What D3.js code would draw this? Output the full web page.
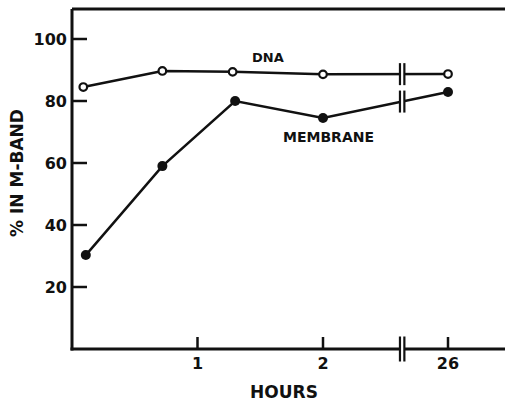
<!DOCTYPE html>
<html>
<head>
<meta charset="utf-8">
<script src="https://cdn.jsdelivr.net/npm/d3@7"></script>
<style>
  html, body { margin: 0; padding: 0; background: #fff; }
  svg { display: block; }
  text { font-family: "DejaVu Sans", sans-serif; font-weight: bold; fill: #111; }
</style>
</head>
<body>
<svg id="chart" width="505" height="403"></svg>
<script>
// ---- data ----
const dnaHours = [0.09, 0.72, 1.28, 2, 26];
const dnaValues = [84.5, 89.7, 89.4, 88.6, 88.7];
const membraneHours = [0.11, 0.72, 1.3, 2, 26];
const membraneValues = [30.3, 59.0, 80.0, 74.5, 82.9];
const xTickValues = [1, 2, 26];
const xTickLabels = ["1", "2", "26"];
const yTickValues = [20, 40, 60, 80, 100];
const breakHour = 17.2;

const svg = d3.select("#chart");
const W = 505, H = 403;
const ink = "#111";

const x = d3.scaleLinear().domain([0, 2, 26]).range([72, 323, 448]);
const y = d3.scaleLinear().domain([0, 100]).range([349, 39]);
const yTop = 109.7;

// frame: left axis, top border, bottom axis
svg.append("line").attr("x1", x(0)).attr("x2", x(0)).attr("y1", y(yTop)).attr("y2", y(0) + 1.5)
  .attr("stroke", ink).attr("stroke-width", 3);
svg.append("line").attr("x1", x(0)).attr("x2", W).attr("y1", y(yTop)).attr("y2", y(yTop))
  .attr("stroke", ink).attr("stroke-width", 3);
svg.append("line").attr("x1", x(0) - 1.5).attr("x2", W).attr("y1", y(0)).attr("y2", y(0))
  .attr("stroke", ink).attr("stroke-width", 3);

// y ticks (inward) and labels
const yg = svg.append("g");
yTickValues.forEach(v => {
  yg.append("line").attr("x1", x(0)).attr("x2", x(0) + 15).attr("y1", y(v)).attr("y2", y(v))
    .attr("stroke", ink).attr("stroke-width", 2.5);
  yg.append("text").attr("x", 67).attr("y", y(v)).attr("dy", "0.36em")
    .attr("text-anchor", "end").attr("font-size", 16).text(v);
});

// x ticks (inward) and labels
xTickValues.forEach((v, i) => {
  svg.append("line").attr("x1", x(v)).attr("x2", x(v)).attr("y1", y(0) - 12).attr("y2", y(0))
    .attr("stroke", ink).attr("stroke-width", 2.5);
  svg.append("text").attr("x", x(v)).attr("y", 369).attr("text-anchor", "middle")
    .attr("font-size", 16).text(xTickLabels[i]);
});

// axis titles
svg.append("text").attr("x", 284).attr("y", 398).attr("text-anchor", "middle")
  .attr("font-size", 17).text("HOURS");
svg.append("text").attr("transform", "translate(23,173) rotate(-90)")
  .attr("text-anchor", "middle").attr("font-size", 17).text("% IN M-BAND");

// series lines
const line = d3.line().x(d => x(d[0])).y(d => y(d[1]));
const dna = dnaHours.map((h, i) => [h, dnaValues[i]]);
const mem = membraneHours.map((h, i) => [h, membraneValues[i]]);

svg.append("path").attr("d", line(dna)).attr("fill", "none").attr("stroke", ink).attr("stroke-width", 2.5);
svg.append("path").attr("d", line(mem)).attr("fill", "none").attr("stroke", ink).attr("stroke-width", 2.5);

// break marks
const bx = x(breakHour);
function interpY(data, h) {
  const a = data[3], b = data[4];
  return y(a[1] + (b[1] - a[1]) * (h - a[0]) / (b[0] - a[0]));
}
function breakMark(cy, half) {
  svg.append("rect").attr("x", bx - 2).attr("y", cy - 3).attr("width", 4).attr("height", 6).attr("fill", "#fff");
  [bx - 2.2, bx + 2.2].forEach(xx => {
    svg.append("line").attr("x1", xx).attr("x2", xx).attr("y1", cy - half).attr("y2", cy + half)
      .attr("stroke", ink).attr("stroke-width", 2.2);
  });
}
breakMark(interpY(dna, breakHour), 11);
breakMark(interpY(mem, breakHour), 11);
breakMark(y(0), 12.5);

// markers
svg.append("g").selectAll("circle").data(dna).join("circle")
  .attr("cx", d => x(d[0])).attr("cy", d => y(d[1])).attr("r", 3.8)
  .attr("fill", "#fff").attr("stroke", ink).attr("stroke-width", 2.2);
svg.append("g").selectAll("circle").data(mem).join("circle")
  .attr("cx", d => x(d[0])).attr("cy", d => y(d[1])).attr("r", 5)
  .attr("fill", ink);

// series labels
svg.append("text").attr("x", 252).attr("y", 62).attr("font-size", 13).text("DNA");
svg.append("text").attr("x", 283).attr("y", 142).attr("font-size", 14).text("MEMBRANE");
</script>
</body>
</html>
